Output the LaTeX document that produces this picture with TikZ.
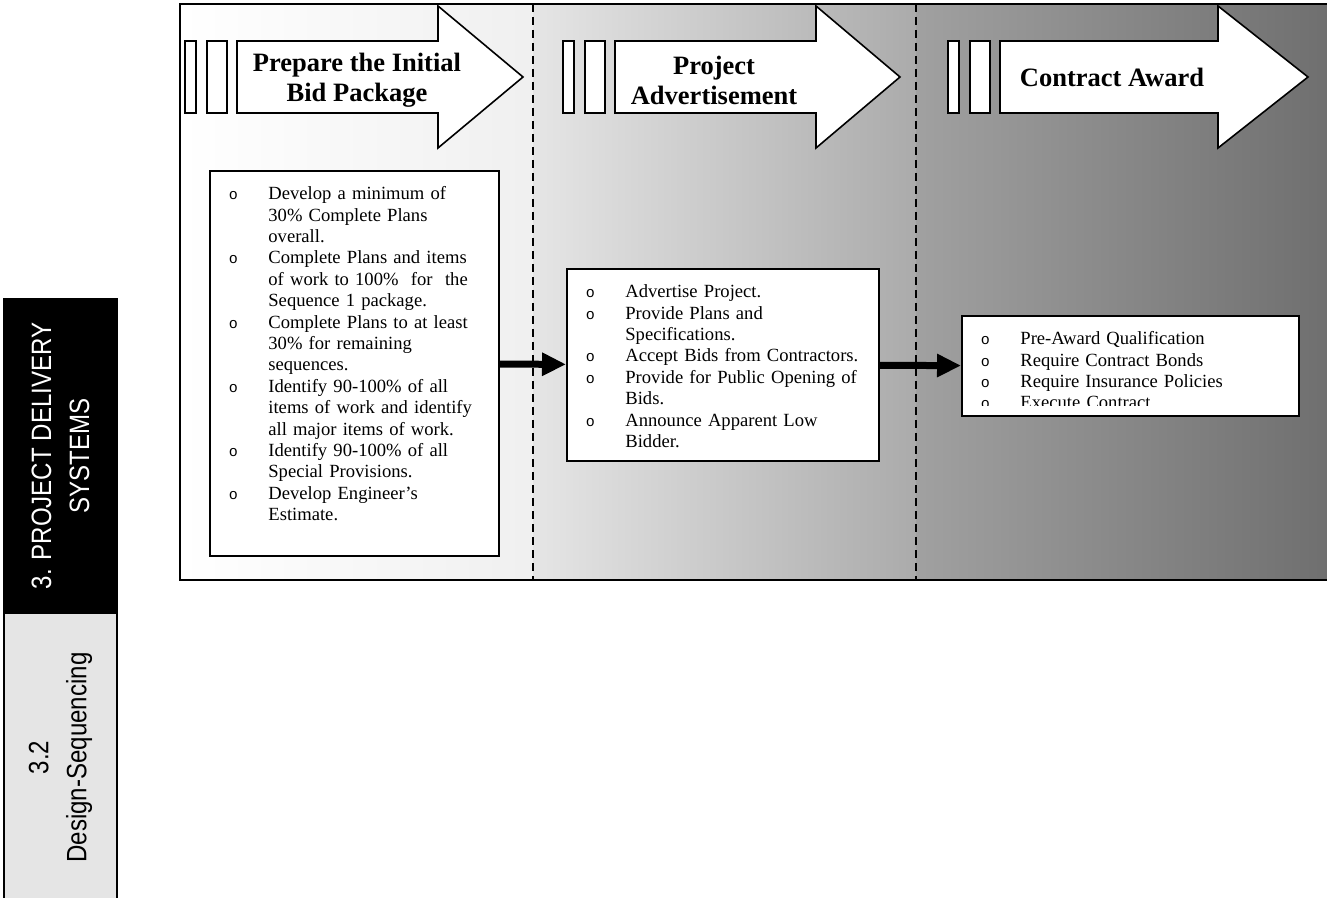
\documentclass[tikz,border=0pt]{standalone}
\usepackage{fontspec}
\setmainfont{Liberation Serif}
\newfontfamily\tabfont[FakeStretch=0.86]{Liberation Sans}
\newfontfamily\bulfont{Liberation Mono}
\usetikzlibrary{arrows.meta}

\newcommand{\bul}[1]{\par\hangindent=24.5pt\hangafter=1\noindent\hspace*{24.5pt}\llap{\makebox[35pt][c]{\bulfont\fontsize{7.5}{7.5}\selectfont o}}\strut#1\par}

\begin{document}
\begin{tikzpicture}[x=0.5pt,y=-0.5pt,
   tabbox/.style={draw=black,line width=1pt,rotate=90,align=center,inner sep=0pt,
      font=\tabfont\fontsize{14}{19}\selectfont},
   arrowshape/.style={draw=black,line width=0.8pt,fill=white},
   headlabel/.style={align=center,font=\bfseries\fontsize{13.25}{15}\selectfont},
   itembox/.style={draw=black,line width=1pt,fill=white,anchor=north west,inner sep=0pt},
   itemlist/.style={anchor=north west,inner sep=0pt,align=left,font=\fontsize{9.3}{10.7}\selectfont},
   phasesep/.style={line width=0.7pt,dash pattern=on 4pt off 2.5pt},
   flowarrow/.style={line width=3.5pt,-{Triangle[length=12pt,width=11pt]}}]
   \useasboundingbox (0,0) rectangle (1327,898);

   % side tabs
   \node[tabbox,fill=black,text=white,minimum width=157pt,minimum height=56.5pt] (tab_1) at (60.5,456) {3. PROJECT DELIVERY\\SYSTEMS};
   \node[tabbox,fill=black!10,minimum width=144.5pt,minimum height=56.5pt] (tab_2) at (60.5,757.5) {3.2\\Design-Sequencing};

   % phases
   \shade[left color=white,right color=black!6] (180,4) rectangle (533,580);
   \shade[left color=black!10,right color=black!33] (533,4) rectangle (916,580);
   \shade[left color=black!37,right color=black!57] (916,4) rectangle (1340,580);
   \draw[line width=1pt] (1340,4) -- (180,4) -- (180,580) -- (1340,580);
   \draw[phasesep] (533,4) -- (533,580);
   \draw[phasesep] (916,4) -- (916,580);

   \foreach \x/\hx/\tx in {185/438/523, 563/816/900, 948/1218/1308} {
      \draw[arrowshape] (\x,41) rectangle ++(11,72);
      \draw[arrowshape] (\x+22,41) rectangle ++(20,72);
      \draw[arrowshape] (\x+52,41) -- (\hx,41) -- (\hx,6) -- (\tx,77) -- (\hx,148) -- (\hx,113) -- (\x+52,113) -- cycle;
   }
   \node[headlabel] (head_1) at (357,80) {Prepare the Initial\\Bid Package};
   \node[headlabel] (head_2) at (714,80) {Project\\Advertisement};
   \node[headlabel] (head_3) at (1112,77) {Contract Award};

   % task boxes
   \node[itembox,minimum width=144.5pt,minimum height=192.5pt] (box_1) at (209,170) {};
   \node[itembox,minimum width=156pt,minimum height=96pt] (box_2) at (566,268) {};
   \node[itembox,minimum width=168.5pt,minimum height=50pt] (box_3) at (961,315) {};

   \node[itemlist,text width=134.5pt] (list_1) at ([xshift=5pt,yshift=-4pt]box_1.north west) {%
      \bul{Develop a minimum of\newline 30\% Complete Plans\newline overall.}%
      \bul{Complete Plans and items\newline of work to 100\%\ \ for\ \ the\newline Sequence 1 package.}%
      \bul{Complete Plans to at least\newline 30\% for remaining\newline sequences.}%
      \bul{Identify 90-100\% of all\newline items of work and identify\newline all major items of work.}%
      \bul{Identify 90-100\% of all\newline Special Provisions.}%
      \bul{Develop Engineer’s\newline Estimate.}};
   \node[itemlist,text width=146pt] (list_2) at ([xshift=5pt,yshift=-4pt]box_2.north west) {%
      \bul{Advertise Project.}%
      \bul{Provide Plans and\newline Specifications.}%
      \bul{Accept Bids from Contractors.}%
      \bul{Provide for Public Opening of\newline Bids.}%
      \bul{Announce Apparent Low\newline Bidder.}};
   \begin{scope}
      \clip (box_3.north west) rectangle ([yshift=5.5pt]box_3.south east);
      \node[itemlist,text width=158.5pt] (list_3) at ([xshift=5pt,yshift=-4pt]box_3.north west) {%
         \bul{Pre-Award Qualification}%
         \bul{Require Contract Bonds}%
         \bul{Require Insurance Policies}%
         \bul{Execute Contract}};
   \end{scope}

   \path[flowarrow]
   (box_1) edge (box_2)
   (box_2) edge (box_3);
\end{tikzpicture}
\end{document}
